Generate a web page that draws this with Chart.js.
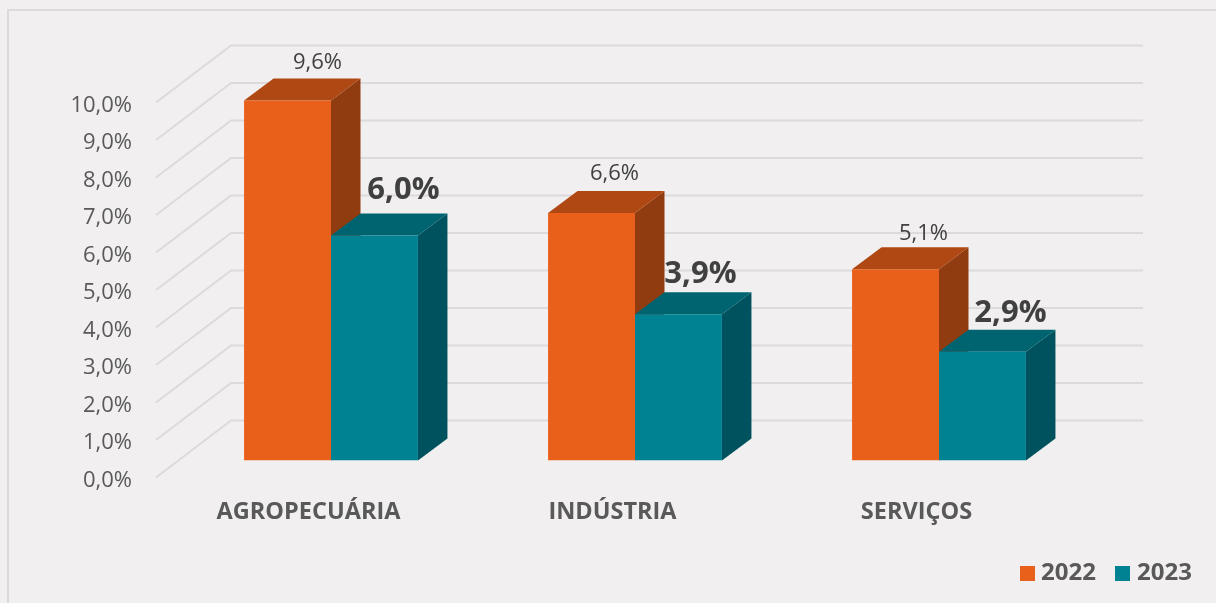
<!DOCTYPE html>
<html><head><meta charset="utf-8">
<style>html,body{margin:0;padding:0;background:#f1eff0;overflow:hidden}canvas{display:block}</style>
<script src="https://cdn.jsdelivr.net/npm/chart.js@4/dist/chart.umd.min.js"></script>
</head><body><canvas id="c" width="1216" height="603"></canvas>
<script>
const categories = ['AGROPECUÁRIA', 'INDÚSTRIA', 'SERVIÇOS'];
const seriesNames = ['2022', '2023'];
const values2022 = [9.6, 6.6, 5.1];
const values2023 = [6.0, 3.9, 2.9];
const labels2022 = ['9,6%', '6,6%', '5,1%'];
const labels2023 = ['6,0%', '3,9%', '2,9%'];
const tickLabels = ['0,0%','1,0%','2,0%','3,0%','4,0%','5,0%','6,0%','7,0%','8,0%','9,0%','10,0%'];

const FONT = '"Open Sans", sans-serif';
const BG = '#f1eff0', GRID = '#dcdadb';
const faces = [
  { front:'#e8601a', top:'#b04813', side:'#913c10', text:labels2022, font:'400 22px '+FONT, color:'#404040',
    nudge:[[30,-38],[23,-39],[28,-35.5]] },
  { front:'#008292', top:'#006470', side:'#00525e', text:labels2023, font:'700 31px '+FONT, color:'#404040',
    nudge:[[29,-45],[22,-40],[28,-39]] }
];
const DX = 29.5, DY = 22;

const poly = (ctx, pts, fill) => {
  ctx.fillStyle = fill; ctx.beginPath();
  pts.forEach((p,i)=> i ? ctx.lineTo(p[0],p[1]) : ctx.moveTo(p[0],p[1]));
  ctx.closePath(); ctx.fill();
};

const scene = {
  id:'scene',
  beforeDraw(chart){
    const {ctx, scales:{y}, chartArea:a} = chart;
    ctx.save();
    ctx.fillStyle = BG; ctx.fillRect(0,0,chart.width,chart.height);
    ctx.strokeStyle = GRID; ctx.lineWidth = 2;
    ctx.beginPath(); ctx.moveTo(8,603); ctx.lineTo(8,10); ctx.lineTo(1216,10); ctx.stroke();
    y.ticks.forEach(t=>{
      const py = y.getPixelForValue(t.value);
      ctx.beginPath();
      ctx.moveTo(a.left-23, py+17);
      ctx.lineTo(a.left+52, py-40);
      ctx.lineTo(a.right+52, py-40);
      ctx.stroke();
    });
    ctx.restore();
  },
  beforeDatasetsDraw(chart){
    const {ctx} = chart;
    ctx.save();
    faces.forEach((f,i)=>{
      chart.getDatasetMeta(i).data.forEach(b=>{
        const l=b.x-b.width/2, r=b.x+b.width/2, t=b.y, bt=b.base;
        poly(ctx,[[r,t],[r+DX,t-DY],[r+DX,bt-DY],[r,bt]],f.side);
        poly(ctx,[[l,t],[l+DX,t-DY],[r+DX,t-DY],[r,t]],f.top);
      });
    });
    ctx.restore();
  },
  afterDraw(chart){
    const {ctx} = chart;
    ctx.save();
    ctx.textAlign='center'; ctx.textBaseline='middle';
    faces.forEach((f,i)=>{
      ctx.font=f.font; ctx.fillStyle=f.color;
      chart.getDatasetMeta(i).data.forEach((b,j)=>{
        ctx.fillText(f.text[j], b.x+f.nudge[j][0], b.y+f.nudge[j][1]);
      });
    });
    const items=[[1020,1041],[1115,1137]];
    ctx.textAlign='left'; ctx.font='700 24px '+FONT;
    seriesNames.forEach((n,i)=>{
      ctx.fillStyle=faces[i].front; ctx.fillRect(items[i][0],566,15,15);
      ctx.fillStyle='#595959'; ctx.fillText(n,items[i][1],573);
    });
    ctx.restore();
  }
};

new Chart(document.getElementById('c'),{
  type:'bar',
  data:{ labels:categories, datasets:[
    {label:seriesNames[0], data:values2022, backgroundColor:faces[0].front},
    {label:seriesNames[1], data:values2023, backgroundColor:faces[1].front}
  ]},
  plugins:[scene],
  options:{
    responsive:false, animation:false,
    layout:{padding:{left:0,top:85.5,right:125,bottom:0}},
    plugins:{legend:{display:false},tooltip:{enabled:false},title:{display:false}},
    datasets:{bar:{categoryPercentage:0.572,barPercentage:1,borderWidth:0}},
    scales:{
      x:{
        grid:{display:false}, border:{display:false},
        afterFit(s){s.height=142.5;},
        ticks:{color:'#595959',font:{family:FONT,size:23.5,weight:'700'},padding:30,labelOffset:-22.5,maxRotation:0,autoSkip:false}
      },
      y:{
        min:0,max:10,
        grid:{display:false,drawTicks:false}, border:{display:false},
        afterFit(s){s.width=179;},
        afterBuildTicks(s){s.ticks=tickLabels.map((_,i)=>({value:i}));},
        ticks:{color:'#595959',font:{family:FONT,size:22},padding:47,labelOffset:20,
          callback:(v)=>tickLabels[v]}
      }
    }
  }
});
</script></body></html>
